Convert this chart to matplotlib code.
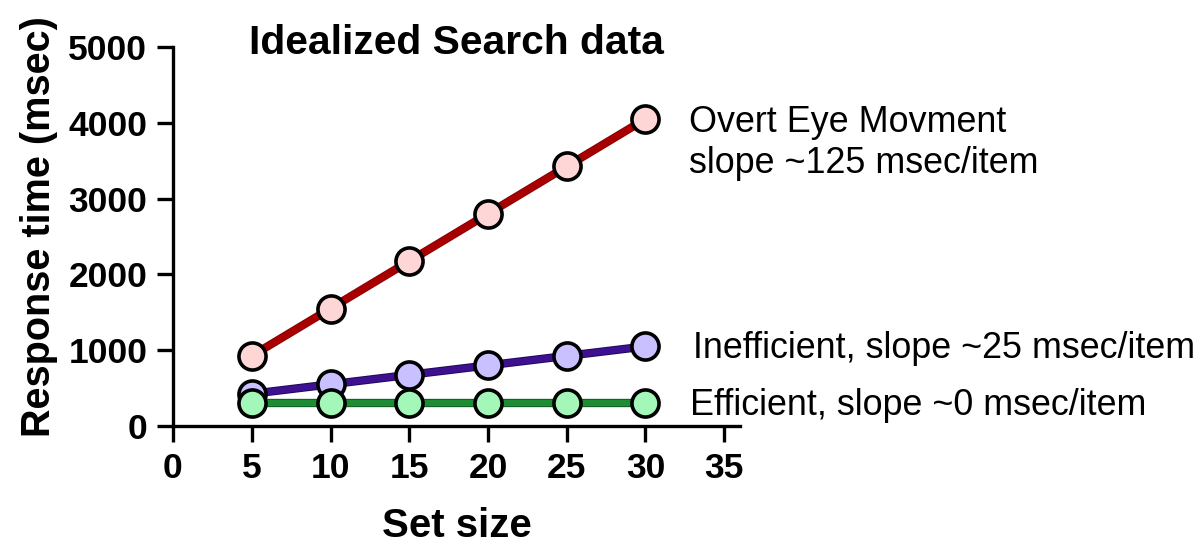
import numpy as np
import matplotlib
matplotlib.use("Agg")
import matplotlib.pyplot as plt
import matplotlib.patheffects as pe

plt.rcParams['font.family'] = ['Liberation Sans', 'DejaVu Sans']

set_size = [5, 10, 15, 20, 25, 30]
rt_overt = [925, 1550, 2175, 2800, 3425, 4050]
rt_inefficient = [425, 550, 675, 800, 925, 1050]
rt_efficient = [300, 300, 300, 300, 300, 300]

# (values, line colour, line edge, marker face)
series = [
    (rt_overt, "#a80000", "#8a0000", "#ffd6d6"),
    (rt_inefficient, "#3d1190", "#1e0858", "#c9c0ff"),
    (rt_efficient, "#1e8c34", "#0e5a1e", "#a2f7b9"),
]

notes = [
    (32.75, 3879, "Overt Eye Movment"),
    (32.75, 3338, "slope ~125 msec/item"),
    (33.0, 897, "Inefficient, slope ~25 msec/item"),
    (32.8, 150, "Efficient, slope ~0 msec/item"),
]

fig = plt.figure(figsize=(12.01, 5.6), dpi=100)
ax = fig.add_axes([173 / 1201, 134 / 560, 567 / 1201, 379 / 560])

for vals, lc, ec, fc in series:
    ax.plot(set_size, vals, color=lc, lw=4.6, solid_capstyle="butt", zorder=3,
            path_effects=[pe.Stroke(linewidth=6.0, foreground=ec), pe.Normal()])
    ax.plot(set_size, vals, ls="none", marker="o", ms=19.5,
            mfc=fc, mec="black", mew=2.6, clip_on=False, zorder=3)

ax.set_xlim(0, 36)
ax.set_ylim(0, 5000)
ax.set_xticks(np.arange(0, 36, 5))
ax.set_yticks(np.arange(0, 5001, 1000))

for s in ["top", "right"]:
    ax.spines[s].set_visible(False)
for s in ["left", "bottom"]:
    ax.spines[s].set_linewidth(2.4)
ax.tick_params(width=2.4, length=11.5, labelsize=25.5, pad=7)
for lab in ax.get_xticklabels() + ax.get_yticklabels():
    lab.set_fontweight("bold")

ax.set_xlabel("Set size", fontsize=29, fontweight="bold")
ax.xaxis.label.set_va("baseline")
ax.xaxis.set_label_coords(0.5, -111 / 379)

ax.set_ylabel("Response time (msec)", fontsize=28.5, fontweight="bold")
ax.yaxis.label.set_va("baseline")
ax.yaxis.set_label_coords(-123 / 567, 0.526)

fig.text(456 / 1201, 1 - 54 / 560, "Idealized Search data", fontsize=29.3,
         fontweight="bold", ha="center", va="baseline")

for x, y, t in notes:
    ax.text(x, y, t, fontsize=25.8, va="baseline", ha="left")

fig.savefig("out.png", dpi=100)
